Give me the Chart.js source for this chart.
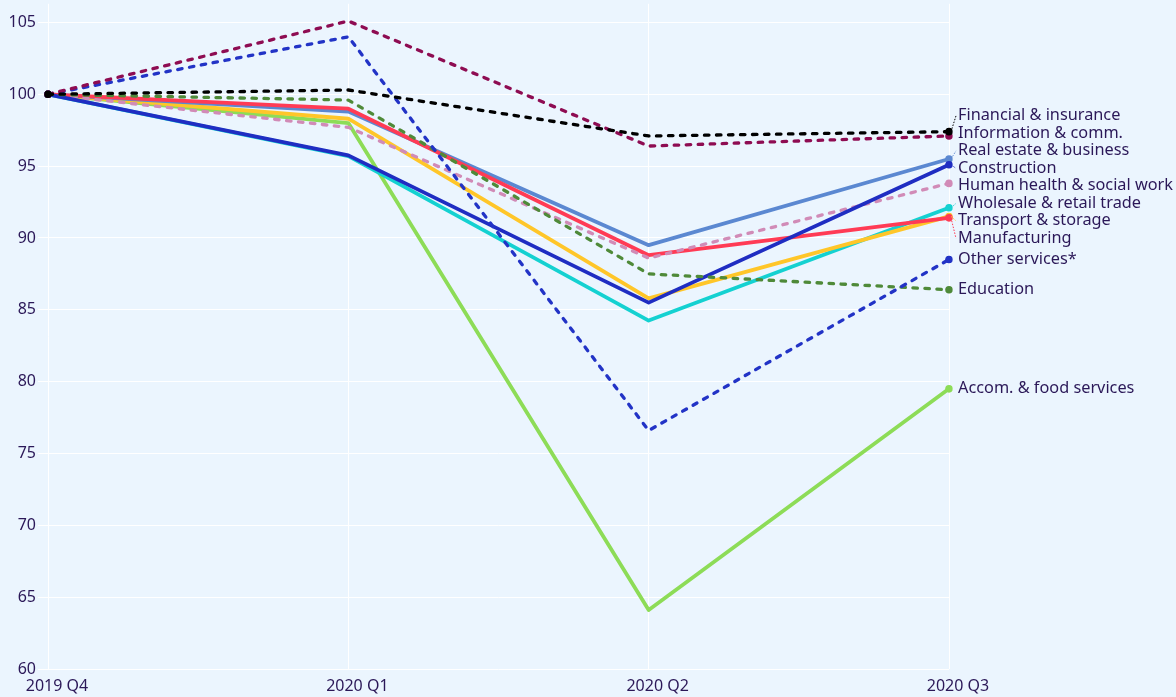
<!DOCTYPE html>
<html>
<head>
<meta charset="utf-8">
<script src="https://cdn.jsdelivr.net/npm/chart.js@4.4.0/dist/chart.umd.min.js"></script>
<style>
  body { margin: 0; background: #ebf5fe; }
  #wrap { width: 1176px; height: 697px; }
</style>
</head>
<body>
<div id="wrap"><canvas id="lineCanvas" width="1176" height="697"></canvas></div>
<script>
// quarters on the x axis
const quarters = ["2019 Q4", "2020 Q1", "2020 Q2", "2020 Q3"];

// output index, 2019 Q4 = 100
const financial = [100, 100.3, 97.1, 97.4];
const information = [100, 105.1, 96.4, 97.1];
const realEstate = [100, 98.8, 89.5, 95.5];
const construction = [100, 95.75, 85.5, 95.1];
const humanHealth = [100, 97.7, 88.6, 93.8];
const wholesale = [100, 95.7, 84.25, 92.1];
const transport = [100, 98.3, 85.8, 91.5];
const manufacturing = [100, 99.0, 88.8, 91.4];
const otherServices = [100, 104.0, 76.6, 88.5];
const education = [100, 99.6, 87.5, 86.4];
const accomFood = [100, 98.0, 64.1, 79.5];

// y axis ticks
const yTicks = [60, 65, 70, 75, 80, 85, 90, 95, 100, 105];

const textColor = '#2b1858';

// helper to build one line (dashed or solid)
function makeLine(label, data, color, dashed) {
  return {
    label: label,
    data: data,
    borderColor: color,
    backgroundColor: color,
    borderWidth: dashed ? 3.3 : 3.8,
    borderDash: dashed ? [4.5, 7.5] : [],
    borderCapStyle: dashed ? 'round' : 'butt',
    borderJoinStyle: 'round',
    pointRadius: [3.8, 0, 0, 3.8],
    pointBorderWidth: 0,
    pointHoverRadius: 0,
    tension: 0,
    fill: false
  };
}

// first dataset is drawn on top
let datasets = [
  makeLine("Financial & insurance", financial, '#000000', true),
  makeLine("Information & comm.", information, '#8e0c52', true),
  makeLine("Other services*", otherServices, '#2233c6', true),
  makeLine("Education", education, '#4f8a39', true),
  makeLine("Construction", construction, '#1f2dc2', false),
  makeLine("Human health & social work", humanHealth, '#d18bb7', true),
  makeLine("Manufacturing", manufacturing, '#ff3b55', false),
  makeLine("Real estate & business", realEstate, '#5b88d1', false),
  makeLine("Transport & storage", transport, '#ffc629', false),
  makeLine("Wholesale & retail trade", wholesale, '#14d1d1', false),
  makeLine("Accom. & food services", accomFood, '#8ddc57', false)
];

// end labels on the right, pushed apart so they do not overlap
const endLabels = {
  id: 'endLabels',
  afterDatasetsDraw(chart) {
    const ctx = chart.ctx;
    let items = [];
    chart.data.datasets.forEach((ds, i) => {
      const pt = chart.getDatasetMeta(i).data[ds.data.length - 1];
      items.push({ text: ds.label, color: ds.borderColor, px: pt.x, py: pt.y, y: pt.y });
    });
    items.sort((a, b) => a.py - b.py);
    const gap = 17.5;
    for (let k = 0; k < 200; k++) {
      for (let i = 0; i < items.length - 1; i++) {
        const d = items[i + 1].y - items[i].y;
        if (d < gap) {
          const push = (gap - d) / 2;
          items[i].y -= push;
          items[i + 1].y += push;
        }
      }
    }
    const tx = chart.chartArea.right + 9;
    ctx.save();
    items.forEach(it => {
      // dotted leader from the point to its label
      if (Math.abs(it.y - it.py) > 3) {
        ctx.beginPath();
        ctx.setLineDash([1.5, 1.5]);
        ctx.lineWidth = 1;
        ctx.strokeStyle = it.color;
        ctx.moveTo(it.px + 2, it.py);
        ctx.lineTo(tx - 2, it.y);
        ctx.stroke();
      }
      ctx.setLineDash([]);
      ctx.fillStyle = textColor;
      ctx.font = '16.3px "Noto Sans"';
      ctx.textAlign = 'left';
      ctx.textBaseline = 'middle';
      ctx.fillText(it.text, tx, it.y);
    });
    ctx.restore();
  }
};

let lineCtx = document.getElementById('lineCanvas').getContext('2d');

var myLineChart = new Chart(lineCtx, {
  type: 'line',
  data: {
    labels: quarters,
    datasets: datasets
  },
  plugins: [endLabels],
  options: {
    responsive: false,
    maintainAspectRatio: false,
    animation: false,
    layout: {
      padding: { top: 0, right: 227, left: 0, bottom: 0 }
    },
    plugins: {
      legend: { display: false },
      tooltip: { enabled: false }
    },
    scales: {
      x: {
        offset: false,
        grid: { color: '#ffffff', lineWidth: 1, drawTicks: false },
        border: { display: false },
        ticks: {
          color: textColor,
          font: { family: 'Noto Sans', size: 16 },
          padding: 8,
          labelOffset: 9,
          maxRotation: 0,
          autoSkip: false
        },
        afterFit: function(scale) {
          scale.height = 28;
          scale.paddingLeft = 0;
          scale.paddingRight = 0;
        }
      },
      y: {
        min: 60,
        max: 106.3,
        grid: { color: '#ffffff', lineWidth: 1, tickLength: 10 },
        border: { display: false },
        afterBuildTicks: function(scale) {
          scale.ticks = yTicks.map(v => ({ value: v }));
        },
        ticks: {
          color: textColor,
          font: { family: 'Noto Sans', size: 16 },
          padding: 2
        },
        afterFit: function(scale) {
          scale.width = 48;
          // no extra room above the plot for the top label
          scale.paddingTop = 0;
          scale.paddingBottom = 0;
        }
      }
    }
  }
});
</script>
</body>
</html>
